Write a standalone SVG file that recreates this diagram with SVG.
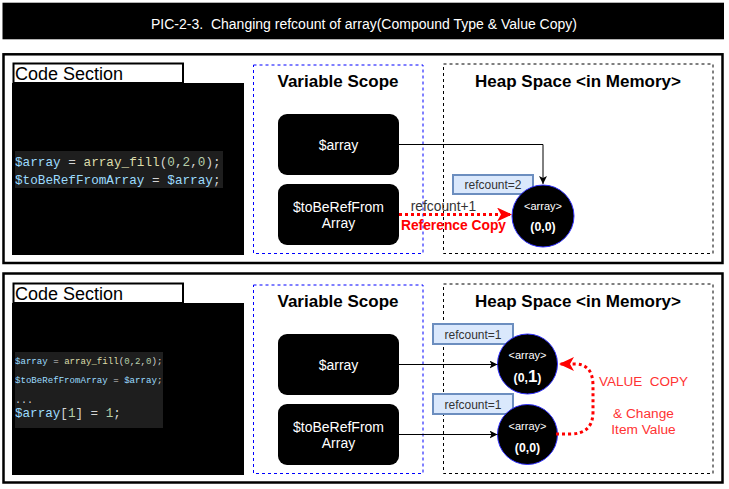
<svg xmlns="http://www.w3.org/2000/svg" width="729" height="489" viewBox="0 0 729 489">
<style>
text{font-family:"Liberation Sans",Arial,sans-serif}
.pre{white-space:pre}
.panel{fill:#fff;stroke:#000;stroke-width:2.5}
.lbl{fill:#fff;stroke:#000;stroke-width:2}
.code{fill:#000}
.hl{fill:#1e1e1e}
.mono{font-family:"Liberation Mono","DejaVu Sans Mono",monospace}
.v{fill:#9cdcfe}.w{fill:#d4d4d4}.f{fill:#dcdcaa}.n{fill:#b5cea8}
.vs{fill:none;stroke:#0000ff;stroke-width:1;stroke-dasharray:3 3}
.hs{fill:none;stroke:#000;stroke-width:1;stroke-dasharray:3 3}
.sec{font-size:17px;font-weight:bold;fill:#000;text-anchor:middle}
.node rect{fill:#000}
.node text{fill:#fff;font-size:14px;text-anchor:middle}
.arr circle{fill:#000;stroke:#3333ff;stroke-width:1}
.arr text{fill:#fff;text-anchor:middle}
.rc rect{fill:#dae8fc;stroke:#6c8ebf;stroke-width:2}
.rc text{fill:#333;font-size:12px;text-anchor:middle}
.blk{fill:none;stroke:#000;stroke-width:1}
.red{fill:none;stroke:#ff0000;stroke-width:3;stroke-dasharray:3 3}
</style>
<defs>
<marker id="ab" markerUnits="userSpaceOnUse" markerWidth="10" markerHeight="10" refX="8" refY="4" orient="auto">
<path d="M0,0 L8,4 L0,8 L2,4 z" fill="#000"/>
</marker>
<marker id="ar" markerUnits="userSpaceOnUse" markerWidth="18" markerHeight="16" refX="15" refY="7" orient="auto">
<path d="M0,0 L15,7 L0,14 L4,7 z" fill="#ff0000"/>
</marker>
</defs>

<g id="title">
<rect x="2.5" y="2.7" width="721.5" height="36.6" fill="#000"/>
<text class="pre" x="364" y="29" font-size="14" fill="#fff" text-anchor="middle" xml:space="preserve">PIC-2-3.  Changing refcount of array(Compound Type &amp; Value Copy)</text>
</g>

<!-- Panel 1 -->
<g id="panel1">
<rect class="panel" x="3.5" y="54.3" width="719" height="208.7"/>
<g id="code1">
<rect class="code" x="12" y="83" width="232" height="172"/>
<rect class="lbl" x="13.5" y="63.5" width="169.5" height="19.5"/>
<text x="15" y="79.5" font-size="18" fill="#000">Code Section</text>
<rect class="hl" x="15" y="151" width="208" height="37"/>
<text class="mono" x="15" y="165.5" font-size="12.7"><tspan class="v">$array</tspan><tspan class="w" xml:space="preserve"> = </tspan><tspan class="f">array_fill</tspan><tspan class="w">(</tspan><tspan class="n">0</tspan><tspan class="w">,</tspan><tspan class="n">2</tspan><tspan class="w">,</tspan><tspan class="n">0</tspan><tspan class="w">);</tspan></text>
<text class="mono" x="15" y="184" font-size="12.7"><tspan class="v">$toBeRefFromArray</tspan><tspan class="w" xml:space="preserve"> = </tspan><tspan class="v">$array</tspan><tspan class="w">;</tspan></text>
</g>
<g id="varscope1">
<rect class="vs" x="253.5" y="65" width="169.5" height="188.5"/>
<text class="sec" x="338" y="86.5">Variable Scope</text>
</g>
<g id="heap1">
<rect class="hs" x="443.5" y="64" width="269.5" height="189.5"/>
<text class="sec" x="578" y="86.5">Heap Space &lt;in Memory&gt;</text>
</g>
<g id="p1-array" class="node">
<rect x="278" y="114" width="121" height="61" rx="9"/>
<text x="338.5" y="150">$array</text>
</g>
<g id="p1-tobe" class="node">
<rect x="278" y="184" width="121" height="61" rx="9"/>
<text x="338.5" y="211.5">$toBeRefFrom</text>
<text x="338.5" y="227.5">Array</text>
</g>
<g id="p1-rc" class="rc">
<rect x="453" y="175" width="80" height="19"/>
<text x="493" y="189">refcount=2</text>
</g>
<g id="p1-obj" class="arr">
<circle cx="543" cy="216" r="31"/>
<text x="543" y="209.5" font-size="11">&lt;array&gt;</text>
<text x="543" y="231" font-size="12.3" font-weight="bold">(0,0)</text>
</g>
<g id="connectors1">
<path class="blk" d="M399,144.5 H543 V184" marker-end="url(#ab)"/>
<path class="red" d="M399,214.5 H512" marker-end="url(#ar)"/>
<text x="443.5" y="211" font-size="13.8" fill="#333" text-anchor="middle">refcount+1</text>
<text x="453.5" y="229.5" font-size="13.8" font-weight="bold" fill="#ff0000" text-anchor="middle">Reference Copy</text>
</g>
</g>

<!-- Panel 2 -->
<g id="panel2">
<rect class="panel" x="3.5" y="273.5" width="719" height="209"/>
<g id="code2">
<rect class="code" x="12" y="303" width="232" height="172"/>
<rect class="lbl" x="13.5" y="283.5" width="169.5" height="19.5"/>
<text x="15" y="299.5" font-size="18" fill="#000">Code Section</text>
<rect class="hl" x="15" y="352" width="148" height="76"/>
<text class="mono" x="15" y="363.5" font-size="9.1"><tspan class="v">$array</tspan><tspan class="w" xml:space="preserve"> = </tspan><tspan class="f">array_fill</tspan><tspan class="w">(</tspan><tspan class="n">0</tspan><tspan class="w">,</tspan><tspan class="n">2</tspan><tspan class="w">,</tspan><tspan class="n">0</tspan><tspan class="w">);</tspan></text>
<text class="mono" x="15" y="382.5" font-size="9.1"><tspan class="v">$toBeRefFromArray</tspan><tspan class="w" xml:space="preserve"> = </tspan><tspan class="v">$array</tspan><tspan class="w">;</tspan></text>
<text class="mono w" x="15" y="403" font-size="10">...</text>
<text class="mono" x="15" y="417" font-size="12.6"><tspan class="v">$array</tspan><tspan class="w">[</tspan><tspan class="n">1</tspan><tspan class="w" xml:space="preserve">] = </tspan><tspan class="n">1</tspan><tspan class="w">;</tspan></text>
</g>
<g id="varscope2">
<rect class="vs" x="253.5" y="285" width="169.5" height="188.5"/>
<text class="sec" x="338" y="306.5">Variable Scope</text>
</g>
<g id="heap2">
<rect class="hs" x="443.5" y="284" width="269.5" height="189.5"/>
<text class="sec" x="578" y="306.5">Heap Space &lt;in Memory&gt;</text>
</g>
<g id="p2-array" class="node">
<rect x="278" y="334" width="121" height="61" rx="9"/>
<text x="338.5" y="370">$array</text>
</g>
<g id="p2-tobe" class="node">
<rect x="278" y="404" width="121" height="61" rx="9"/>
<text x="338.5" y="431.5">$toBeRefFrom</text>
<text x="338.5" y="447.5">Array</text>
</g>
<g id="p2-rc1" class="rc">
<rect x="433" y="324" width="80" height="20"/>
<text x="473" y="338.5">refcount=1</text>
</g>
<g id="p2-rc2" class="rc">
<rect x="433" y="394" width="80" height="20"/>
<text x="473" y="408.5">refcount=1</text>
</g>
<g id="p2-obj1" class="arr">
<circle cx="527.5" cy="364" r="30"/>
<text x="527.5" y="359" font-size="11">&lt;array&gt;</text>
<text x="527.5" y="381.5" font-size="12.3" font-weight="bold">(0,<tspan font-size="17">1</tspan>)</text>
</g>
<g id="p2-obj2" class="arr">
<circle cx="527.5" cy="434.5" r="30"/>
<text x="527.5" y="429.5" font-size="11">&lt;array&gt;</text>
<text x="527.5" y="451.5" font-size="12.3" font-weight="bold">(0,0)</text>
</g>
<g id="connectors2">
<path class="blk" d="M399,364.5 H497.5" marker-end="url(#ab)"/>
<path class="blk" d="M399,434.5 H497.5" marker-end="url(#ab)"/>
<path class="red" d="M556,434 L570,434 Q593,434 593,412 L593,386 Q593,364 575,364 L559,364" marker-end="url(#ar)"/>
<text class="pre" x="643.5" y="386" font-size="13.5" fill="#ff3333" text-anchor="middle" xml:space="preserve">VALUE  COPY</text>
<text x="643.5" y="417.5" font-size="13.7" fill="#ff3333" text-anchor="middle">&amp; Change</text>
<text x="643.5" y="433.5" font-size="13.7" fill="#ff3333" text-anchor="middle">Item Value</text>
</g>
</g>
</svg>
